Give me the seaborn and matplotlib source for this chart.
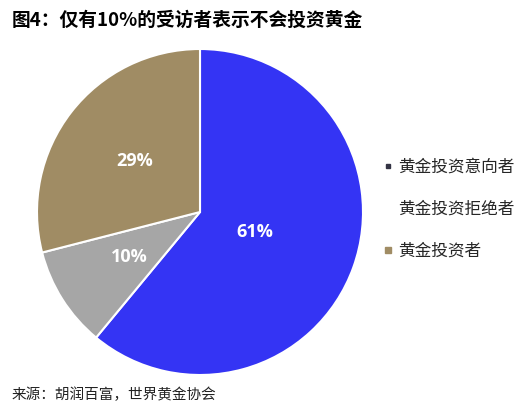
import matplotlib
matplotlib.use("Agg")
import matplotlib.pyplot as plt
from matplotlib.lines import Line2D
import seaborn as sns
import numpy as np

# data
labels = ["黄金投资意向者", "黄金投资拒绝者", "黄金投资者"]
shares = [61, 10, 29]
colors = ["#3434F4", "#A6A6A6", "#A08C64"]
label_dist = [0.36, 0.51, 0.51]

title = "图4：仅有10%的受访者表示不会投资黄金"
source = "来源：胡润百富，世界黄金协会"

sns.set_theme(style="white")
plt.rcParams["font.family"] = ["Noto Sans CJK SC", "DejaVu Sans"]

fig = plt.figure(figsize=(5.24, 4.18), dpi=100)
r_px = 163
cx, cy = 200, 418 - 212
ax = fig.add_axes([(cx - r_px) / 524, (cy - r_px) / 418, 2 * r_px / 524, 2 * r_px / 418])

wedges, _ = ax.pie(shares, colors=colors, startangle=90, counterclock=False,
                   wedgeprops=dict(edgecolor="white", linewidth=1.5))
ax.set_xlim(-1, 1)
ax.set_ylim(-1, 1)
ax.set_aspect("equal")
ax.axis("off")

for w, v, d in zip(wedges, shares, label_dist):
    ang = np.deg2rad((w.theta1 + w.theta2) / 2)
    ax.text(d * np.cos(ang), d * np.sin(ang), f"{v}%", ha="center", va="center",
            color="white", fontsize=13, fontweight="bold",
            family=["Open Sans", "DejaVu Sans"])

handles = [
    Line2D([], [], marker="s", linestyle="", markersize=2.2, color="#333344"),
    Line2D([], [], marker="s", linestyle="", markersize=4, color="white"),
    Line2D([], [], marker="s", linestyle="", markersize=4.5, color=colors[2]),
]
leg = fig.legend(handles, labels, loc="center left", bbox_to_anchor=(0.702, 0.5),
                 frameon=False, fontsize=12, handlelength=0.6, handletextpad=0.3,
                 labelspacing=1.49)

fig.text(12 / 524, 1 - 20 / 418, title, fontsize=13.5, fontweight="bold",
         va="center", ha="left", color="black")
fig.text(12 / 524, 1 - 395 / 418, source, fontsize=10.5, va="center", ha="left",
         color="#222222")

fig.savefig("out.png", dpi=100)
